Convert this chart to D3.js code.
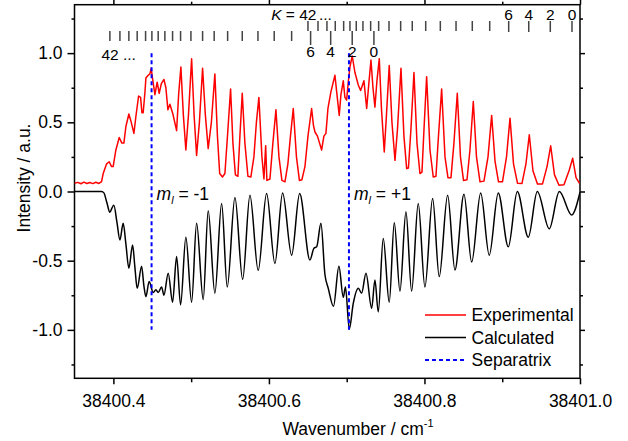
<!DOCTYPE html>
<html>
<head>
<meta charset="utf-8">
<script src="https://cdn.jsdelivr.net/npm/d3@7"></script>
<style>
  body { margin: 0; background: #fff; }
  svg { display: block; font-family: Arial, "Liberation Sans", sans-serif; }
</style>
</head>
<body>
<svg width="628" height="441"></svg>
<script>
// wavenumbers are stored as offsets from NU0 (cm-1)
const NU0 = 38400;

const xMajorTicks = [0.4, 0.6, 0.8, 1.0];
const xMinorTicks = [0.5, 0.7, 0.9];
const yMajorTicks = [-1, -0.5, 0, 0.5, 1];
const yMinorTicks = [-1.25, -0.75, -0.25, 0.25, 0.75, 1.25];

// experimental spectrum [offset, intensity]
const experimental = [
  [0.3498, 0.060], [0.3543, 0.066], [0.3582, 0.056], [0.3621, 0.068], [0.3659, 0.058],
  [0.3698, 0.065], [0.3736, 0.057], [0.3775, 0.067], [0.3814, 0.058], [0.3848, 0.072],
  [0.3869, 0.13], [0.3913, 0.20], [0.3946, 0.215], [0.3977, 0.18], [0.3997, 0.18],
  [0.4032, 0.30], [0.4075, 0.39], [0.4109, 0.35], [0.4135, 0.35], [0.4161, 0.47],
  [0.4199, 0.56], [0.4225, 0.51], [0.4264, 0.42], [0.4289, 0.54], [0.4324, 0.69],
  [0.4350, 0.68], [0.4367, 0.57], [0.4383, 0.57], [0.4405, 0.71], [0.4418, 0.82],
  [0.4448, 0.84], [0.4469, 0.85], [0.4486, 0.89], [0.4508, 0.80], [0.4534, 0.70],
  [0.4563, 0.79], [0.4589, 0.71], [0.4617, 0.78], [0.4650, 0.81], [0.4675, 0.75],
  [0.4701, 0.59], [0.4727, 0.63], [0.4765, 0.56], [0.4813, 0.44], [0.4839, 0.70],
  [0.4868, 0.90], [0.4900, 0.55], [0.4932, 0.30], [0.4965, 0.55], [0.5006, 0.96],
  [0.5038, 0.55], [0.5070, 0.26], [0.5106, 0.50], [0.5147, 0.89], [0.5183, 0.55],
  [0.5219, 0.31], [0.5260, 0.50], [0.5305, 0.85], [0.5338, 0.40], [0.5367, 0.13],
  [0.5402, 0.105], [0.5434, 0.13], [0.5473, 0.45], [0.5507, 0.74], [0.5537, 0.35],
  [0.5569, 0.12], [0.5601, 0.11], [0.5627, 0.40], [0.5657, 0.71], [0.5691, 0.35],
  [0.5730, 0.11], [0.5768, 0.105], [0.5807, 0.25], [0.5839, 0.50], [0.5871, 0.68],
  [0.5910, 0.25], [0.5936, 0.09], [0.5958, 0.33], [0.5974, 0.08], [0.6013, 0.09],
  [0.6051, 0.35], [0.6090, 0.59], [0.6129, 0.25], [0.6167, 0.08], [0.6206, 0.07],
  [0.6244, 0.20], [0.6277, 0.40], [0.6313, 0.60], [0.6354, 0.25], [0.6392, 0.08],
  [0.6424, 0.085], [0.6463, 0.18], [0.6502, 0.40], [0.6549, 0.60], [0.6572, 0.48],
  [0.6592, 0.43], [0.6624, 0.40], [0.6678, 0.30], [0.6707, 0.40], [0.6733, 0.42],
  [0.6759, 0.60], [0.6797, 0.72], [0.6849, 0.84], [0.6875, 0.70], [0.6904, 0.55],
  [0.6926, 0.70], [0.6956, 0.80], [0.6977, 0.68], [0.6999, 0.66], [0.7022, 0.80],
  [0.7042, 0.90], [0.7071, 0.98], [0.7106, 0.86], [0.7149, 0.77], [0.7179, 0.73],
  [0.7222, 0.80], [0.7257, 0.60], [0.7280, 0.75], [0.7312, 0.95], [0.7338, 0.75],
  [0.7363, 0.61], [0.7389, 0.80], [0.7419, 0.96], [0.7447, 0.60], [0.7483, 0.285],
  [0.7511, 0.55], [0.7547, 0.91], [0.7582, 0.50], [0.7621, 0.225], [0.7653, 0.45],
  [0.7698, 0.89], [0.7736, 0.40], [0.7771, 0.165], [0.7794, 0.17], [0.7826, 0.45],
  [0.7865, 0.86], [0.7904, 0.35], [0.7942, 0.13], [0.7968, 0.14], [0.7994, 0.45],
  [0.8028, 0.83], [0.8071, 0.30], [0.8113, 0.105], [0.8148, 0.11], [0.8180, 0.40],
  [0.8221, 0.74], [0.8264, 0.25], [0.8302, 0.10], [0.8341, 0.10], [0.8379, 0.35],
  [0.8422, 0.71], [0.8463, 0.25], [0.8502, 0.08], [0.8547, 0.085], [0.8585, 0.30],
  [0.8628, 0.65], [0.8669, 0.25], [0.8714, 0.07], [0.8765, 0.075], [0.8817, 0.25],
  [0.8864, 0.55], [0.8907, 0.22], [0.8952, 0.07], [0.9003, 0.07], [0.9055, 0.25],
  [0.9100, 0.53], [0.9145, 0.20], [0.9196, 0.06], [0.9254, 0.058], [0.9305, 0.20],
  [0.9348, 0.41], [0.9395, 0.15], [0.9453, 0.055], [0.9518, 0.055], [0.9576, 0.18],
  [0.9623, 0.33], [0.9672, 0.12], [0.9730, 0.045], [0.9794, 0.048], [0.9859, 0.15],
  [0.9906, 0.24], [0.9949, 0.10], [0.9994, 0.058]
];

// calculated spectrum [offset, intensity], drawn inverted
const calculated = [
  [0.3500, 0], [0.3848, 0], [0.3878, -0.01], [0.3916, -0.08], [0.3955, -0.15],
  [0.3981, -0.12], [0.4006, -0.10], [0.4045, -0.22], [0.4084, -0.35], [0.4126, -0.23],
  [0.4161, -0.38], [0.4199, -0.555], [0.4247, -0.387], [0.4277, -0.55], [0.4306, -0.70],
  [0.4363, -0.54], [0.4392, -0.68], [0.4418, -0.76], [0.4460, -0.65], [0.4512, -0.73],
  [0.4547, -0.71], [0.4576, -0.73], [0.4620, -0.69], [0.4650, -0.75], [0.4705, -0.59],
  [0.4761, -0.80], [0.4813, -0.47], [0.4864, -0.82], [0.4932, -0.33], [0.5006, -0.80],
  [0.5070, -0.23], [0.5155, -0.78], [0.5219, -0.14], [0.5305, -0.735], [0.5392, -0.087],
  [0.5464, -0.69], [0.5563, -0.043], [0.5662, -0.635], [0.5756, -0.027], [0.5862, -0.57],
  [0.5970, -0.015], [0.6077, -0.52], [0.6176, -0.01], [0.6292, -0.46], [0.6395, -0.015],
  [0.6527, -0.495], [0.6579, -0.41], [0.6614, -0.40], [0.6669, -0.23], [0.6720, -0.60],
  [0.6763, -0.70], [0.6830, -0.83], [0.6900, -0.54], [0.6956, -0.765], [0.6984, -0.69],
  [0.7033, -0.995], [0.7084, -0.81], [0.7149, -0.70], [0.7192, -0.735], [0.7248, -0.59],
  [0.7321, -0.845], [0.7363, -0.64], [0.7406, -0.87], [0.7470, -0.34], [0.7547, -0.80],
  [0.7612, -0.226], [0.7685, -0.72], [0.7762, -0.147], [0.7835, -0.72], [0.7920, -0.087],
  [0.8006, -0.69], [0.8105, -0.05], [0.8190, -0.615], [0.8298, -0.027], [0.8392, -0.567],
  [0.8508, -0.02], [0.8607, -0.51], [0.8723, -0.01], [0.8833, -0.46], [0.8949, -0.01],
  [0.9078, -0.40], [0.9194, 0], [0.9335, -0.33], [0.9451, 0], [0.9605, -0.27],
  [0.9734, 0], [0.9893, -0.17], [1.0000, -0.005]
];

// K assignment combs (K = 42, 40, ... 0), offsets
const kValues = d3.range(42, -1, -2);
const kCombLower = [0.3955, 0.4084, 0.4199, 0.4306, 0.4414, 0.4495, 0.4576, 0.4662,
  0.4761, 0.4864, 0.4997, 0.5147, 0.5296, 0.5469, 0.5657, 0.5859, 0.6068, 0.6292,
  0.6536, 0.6794, 0.7071, 0.7350];
const kCombUpper = [0.6502, 0.6631, 0.6746, 0.6853, 0.6961, 0.7042, 0.7123, 0.7209,
  0.7308, 0.7411, 0.7544, 0.7694, 0.7843, 0.8016, 0.8204, 0.8406, 0.8615, 0.8839,
  0.9083, 0.9341, 0.9618, 0.9897];
const kLabelled = [6, 4, 2, 0];

const separatrix = [0.4491, 0.7029];
const mlLabels = ["-1", "+1"];

const legendItems = [
  { label: "Experimental", color: "#ff0000", dash: null },
  { label: "Calculated", color: "#000000", dash: null },
  { label: "Separatrix", color: "#0000ff", dash: "4,3" }
];

const FONT = 17.5;
const margin = { top: 4.7, right: 48, bottom: 62.7, left: 74.5 };
const W = 628, H = 441;

const svg = d3.select("svg");

const x = d3.scaleLinear()
  .domain([NU0 + 0.35, NU0 + 1.0])
  .range([margin.left, W - margin.right]);
const y = d3.scaleLinear()
  .domain([-1.35, 1.35])
  .range([H - margin.bottom, margin.top]);

const fmt = d => d.toFixed(1);

/********************************************************************/
// axes
/********************************************************************/
function addAxis(axis, transform, showLabels) {
  const g = svg.append("g").attr("transform", transform).call(axis);
  g.select(".domain").remove();
  g.selectAll("line").attr("stroke", "#000").attr("stroke-width", 1.5);
  g.selectAll("text")
    .attr("font-size", FONT)
    .attr("font-family", "Arial, 'Liberation Sans', sans-serif")
    .attr("fill", "#000");
  if (!showLabels) g.selectAll("text").remove();
  return g;
}

const xMaj = xMajorTicks.map(d => NU0 + d);
const xMin = xMinorTicks.map(d => NU0 + d);
const yb = H - margin.bottom;
const xr = W - margin.right;

addAxis(d3.axisBottom(x).tickValues(xMaj).tickFormat(d => (d).toFixed(1)).tickSize(6).tickPadding(10),
  `translate(0,${yb})`, true);
addAxis(d3.axisBottom(x).tickValues(xMin).tickSize(4), `translate(0,${yb})`, false);
addAxis(d3.axisTop(x).tickValues(xMaj).tickSize(5), `translate(0,${margin.top})`, false);
addAxis(d3.axisTop(x).tickValues(xMin).tickSize(3), `translate(0,${margin.top})`, false);

addAxis(d3.axisLeft(y).tickValues(yMajorTicks).tickFormat(fmt).tickSize(7).tickPadding(5),
  `translate(${margin.left},0)`, true);
addAxis(d3.axisLeft(y).tickValues(yMinorTicks).tickSize(3), `translate(${margin.left},0)`, false);
addAxis(d3.axisRight(y).tickValues(yMajorTicks).tickSize(5), `translate(${xr},0)`, false);
addAxis(d3.axisRight(y).tickValues(yMinorTicks).tickSize(3), `translate(${xr},0)`, false);

// frame
svg.append("rect")
  .attr("x", margin.left).attr("y", margin.top)
  .attr("width", xr - margin.left).attr("height", yb - margin.top)
  .attr("fill", "none").attr("stroke", "#000").attr("stroke-width", 1.5);

// axis titles
const xTitle = svg.append("text")
  .attr("x", 358).attr("y", 435)
  .attr("text-anchor", "middle").attr("font-size", FONT);
xTitle.append("tspan").text("Wavenumber / cm");
xTitle.append("tspan").attr("font-size", 11).attr("dy", -8).text("-1");

svg.append("text")
  .attr("transform", "translate(30,178) rotate(-90)")
  .attr("text-anchor", "middle").attr("font-size", FONT)
  .text("Intensity / a.u.");

/********************************************************************/
// spectra
/********************************************************************/
svg.append("clipPath").attr("id", "plot-clip")
  .append("rect")
  .attr("x", margin.left).attr("y", margin.top)
  .attr("width", xr - margin.left).attr("height", yb - margin.top);

const expLine = d3.line()
  .x(d => x(NU0 + d[0]))
  .y(d => y(d[1]));
const calcLine = d3.line()
  .x(d => x(NU0 + d[0]))
  .y(d => y(d[1]))
  .curve(d3.curveMonotoneX);

const plot = svg.append("g").attr("clip-path", "url(#plot-clip)");

plot.append("path")
  .attr("d", calcLine(calculated))
  .attr("fill", "none").attr("stroke", "#000").attr("stroke-width", 1.5);

plot.append("path")
  .attr("d", expLine(experimental))
  .attr("fill", "none").attr("stroke", "#ff0000").attr("stroke-width", 1.5)
  .attr("stroke-linejoin", "round");

separatrix.forEach(s => {
  plot.append("line")
    .attr("x1", x(NU0 + s)).attr("x2", x(NU0 + s))
    .attr("y1", y(1)).attr("y2", y(-1))
    .attr("stroke", "#0000ff").attr("stroke-width", 2)
    .attr("stroke-dasharray", "4,3");
});

// m_l labels
separatrix.forEach((s, i) => {
  const t = svg.append("text")
    .attr("x", x(NU0 + s) + 5).attr("y", y(-0.065))
    .attr("font-size", FONT);
  t.append("tspan").attr("font-style", "italic").text("m");
  t.append("tspan").attr("font-style", "italic").attr("font-size", 11).attr("dy", 4).text("l");
  t.append("tspan").attr("dy", -4).text(" = " + mlLabels[i]);
});

/********************************************************************/
// K combs
/********************************************************************/
const tickColor = "#444";

function addComb(positions, y0, y1, yLong0, yLong1) {
  positions.forEach((p, i) => {
    const labelled = kLabelled.includes(kValues[i]);
    svg.append("line")
      .attr("x1", x(NU0 + p)).attr("x2", x(NU0 + p))
      .attr("y1", labelled ? yLong0 : y0).attr("y2", labelled ? yLong1 : y1)
      .attr("stroke", tickColor).attr("stroke-width", 1.5);
  });
}

addComb(kCombLower, 31, 41, 31, 45);
addComb(kCombUpper, 21, 31, 21, 32);

const kFont = 15.5;
kCombLower.forEach((p, i) => {
  if (kLabelled.includes(kValues[i])) {
    svg.append("text").attr("x", x(NU0 + p)).attr("y", 57)
      .attr("text-anchor", "middle").attr("font-size", kFont).text(kValues[i]);
  }
});
svg.append("text").attr("x", x(NU0 + kCombLower[0]) - 8.5).attr("y", 60)
  .attr("font-size", kFont).text("42 ...");

kCombUpper.forEach((p, i) => {
  if (kLabelled.includes(kValues[i])) {
    svg.append("text").attr("x", x(NU0 + p)).attr("y", 20)
      .attr("text-anchor", "middle").attr("font-size", kFont).text(kValues[i]);
  }
});
const kTitle = svg.append("text").attr("x", x(NU0 + kCombUpper[0]) + 8.5).attr("y", 20)
  .attr("text-anchor", "end").attr("font-size", kFont);
kTitle.append("tspan").attr("font-style", "italic").text("K");
kTitle.append("tspan").text(" = 42");
svg.append("text").attr("x", x(NU0 + kCombUpper[0]) + 11).attr("y", 20)
  .attr("font-size", kFont).text("...");

/********************************************************************/
// legend
/********************************************************************/
const legend = svg.append("g").attr("transform", "translate(425,315)");
legendItems.forEach((item, i) => {
  const row = legend.append("g").attr("transform", `translate(0,${i * 22.5})`);
  row.append("line")
    .attr("x1", 0).attr("x2", 41).attr("y1", 0).attr("y2", 0)
    .attr("stroke", item.color).attr("stroke-width", item.dash ? 2 : 1.5)
    .attr("stroke-dasharray", item.dash);
  row.append("text")
    .attr("x", 46.5).attr("y", 0).attr("dy", "0.35em")
    .attr("font-size", FONT).text(item.label);
});
</script>
</body>
</html>
